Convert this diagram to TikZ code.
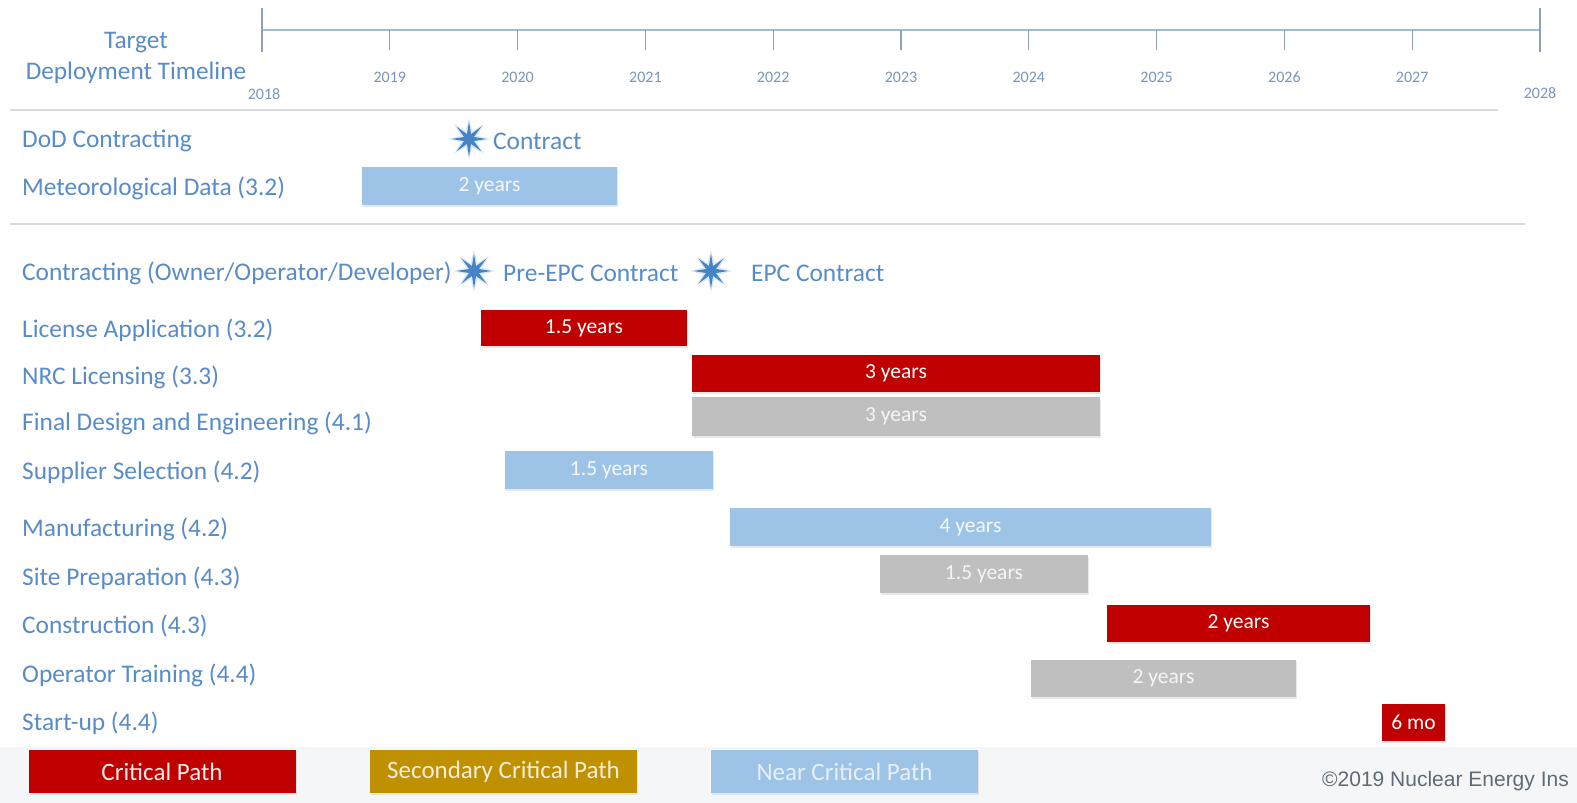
\documentclass[tikz,border=0pt]{standalone}
\usepackage{fontspec}
\setmainfont{Carlito}
\newfontfamily\arialf{Liberation Sans}
\usetikzlibrary{shapes.geometric,shadows}
\definecolor{lbl}{RGB}{88,140,200}
\definecolor{yr}{RGB}{120,150,190}
\definecolor{axis}{RGB}{157,186,214}
\definecolor{tick}{RGB}{140,160,185}
\definecolor{sep}{RGB}{215,217,220}
\definecolor{crit}{RGB}{192,0,0}
\definecolor{graybar}{RGB}{191,191,191}
\definecolor{bluebar}{RGB}{157,195,230}
\definecolor{gold}{RGB}{191,144,0}
\definecolor{starc}{RGB}{70,132,200}
\definecolor{foot}{RGB}{245,246,247}
\definecolor{copyc}{RGB}{95,107,119}
\tikzset{
  rowlabel/.style={anchor=west, inner sep=0pt, text=lbl, font=\fontsize{25.4}{27}\selectfont},
  yearlabel/.style={inner sep=0pt, text=yr, font=\fontsize{16}{18}\selectfont},
  bar/.style={inner sep=0pt, draw=none, font=\fontsize{21.5}{23}\selectfont,
     drop shadow={opacity=0.18, shadow xshift=1pt, shadow yshift=-2pt}},
  critbar/.style={bar, fill=crit, text=white},
  graybarst/.style={bar, fill=graybar, text=white!92!gray},
  bluebarst/.style={bar, fill=bluebar, text=white!90!bluebar},
  legbox/.style={inner sep=0pt, minimum width=267pt, minimum height=43pt, font=\fontsize{25}{27}\selectfont,
     drop shadow={opacity=0.15, shadow xshift=1pt, shadow yshift=-2pt}},
  milestone/.style={star, star points=8, star point ratio=3.3, minimum size=35pt, inner sep=0pt, fill=starc, draw=none},
  glow/.style={star, star points=8, star point ratio=2.4, minimum size=42pt, inner sep=0pt, fill=starc!45, draw=none, opacity=0.4},
  axisline/.style={draw=axis, line width=1.8pt},
  tickline/.style={draw=tick, line width=1.2pt},
  sepline/.style={draw=sep, line width=1.5pt}
}
\begin{document}
\begin{tikzpicture}[x=1pt, y=-1pt]
\useasboundingbox (0,0) rectangle (1577,803);
\fill[white] (0,0) rectangle (1577,803);
\fill[foot] (0,747) rectangle (1577,803);

% timeline axis
\coordinate (a0) at (262,30);
\coordinate (a10) at (1540,30);
\draw[axisline] (a0) -- (a10);
\draw[tickline] (262,8) -- (262,52);
\draw[tickline] (1540,8) -- (1540,52);
\foreach \i/\yy in {1/2019,2/2020,3/2021,4/2022,5/2023,6/2024,7/2025,8/2026,9/2027}{
  \draw[tickline] (262+127.8*\i,30) -- (262+127.8*\i,50);
  \node[yearlabel] (y\yy) at (262+127.8*\i,77) {\yy};
}
\node[yearlabel] (y2018) at (264,94) {2018};
\node[yearlabel] (y2028) at (1540,93) {2028};

\node[inner sep=0pt, text=lbl, font=\fontsize{25.3}{27}\selectfont, align=center] (title) at (136,58) {Target\\[4pt]Deployment Timeline};

% separators
\draw[sepline] (10,110) -- (1498,110);
\draw[sepline] (10,224) -- (1525,224);

% rows labels
\node[rowlabel] (l1) at (22,141) {DoD Contracting};
\node[rowlabel] (l2) at (22,188) {Meteorological Data (3.2)};
\node[rowlabel] (l3) at (22,273) {Contracting (Owner/Operator/Developer)};
\node[rowlabel] (l4) at (22,330) {License Application (3.2)};
\node[rowlabel] (l5) at (22,377) {NRC Licensing (3.3)};
\node[rowlabel] (l6) at (22,423) {Final Design and Engineering (4.1)};
\node[rowlabel] (l7) at (22,472) {Supplier Selection (4.2)};
\node[rowlabel] (l8) at (22,529) {Manufacturing (4.2)};
\node[rowlabel] (l9) at (22,578) {Site Preparation (4.3)};
\node[rowlabel] (l10) at (22,626) {Construction (4.3)};
\node[rowlabel] (l11) at (22,675) {Operator Training (4.4)};
\node[rowlabel] (l12) at (22,723) {Start-up (4.4)};

% milestones
\node[glow] (g1) at (469,139) {};
\node[milestone] (s1) at (469,139) {};
\node[rowlabel] (m1) at (493,141) {Contract};
\node[glow] (g2) at (474,271) {};
\node[milestone] (s2) at (474,271) {};
\node[rowlabel] (m2) at (503,273) {Pre-EPC Contract};
\node[glow] (g3) at (711,271) {};
\node[milestone] (s3) at (711,271) {};
\node[rowlabel] (m3) at (751,273) {EPC Contract};

% bars
\node[bluebarst, minimum width=255pt, minimum height=38pt] (b2) at (489.5,186) {2 years};
\node[critbar, minimum width=206pt, minimum height=36pt] (b4) at (584,328) {1.5 years};
\node[critbar, minimum width=408pt, minimum height=37pt] (b5) at (896,373) {3 years};
\node[graybarst, minimum width=408pt, minimum height=39pt] (b6) at (896,416) {3 years};
\node[bluebarst, minimum width=208pt, minimum height=38pt] (b7) at (609,470) {1.5 years};
\node[bluebarst, minimum width=481pt, minimum height=38pt] (b8) at (970.5,527) {4 years};
\node[graybarst, minimum width=208pt, minimum height=38pt] (b9) at (984,574) {1.5 years};
\node[critbar, minimum width=263pt, minimum height=37pt] (b10) at (1238.5,623.5) {2 years};
\node[graybarst, minimum width=265pt, minimum height=37pt] (b11) at (1163.5,678.5) {2 years};
\node[critbar, minimum width=63pt, minimum height=37pt] (b12) at (1413.5,722.5) {6 mo};

% legend
\node[legbox, fill=crit, text=white!92!crit] (k1) at (162,771.5) {Critical Path};
\node[legbox, fill=gold, text=white!85!gold] (k2) at (503.5,771.5) {Secondary Critical Path};
\node[legbox, fill=bluebar, text=white!75!bluebar] (k3) at (844.5,771.5) {Near Critical Path};

\node[anchor=west, inner sep=0pt, text=copyc, font=\arialf\fontsize{21}{23}\selectfont] (copy) at (1322,781) {©2019 Nuclear Energy Ins};
\end{tikzpicture}
\end{document}
